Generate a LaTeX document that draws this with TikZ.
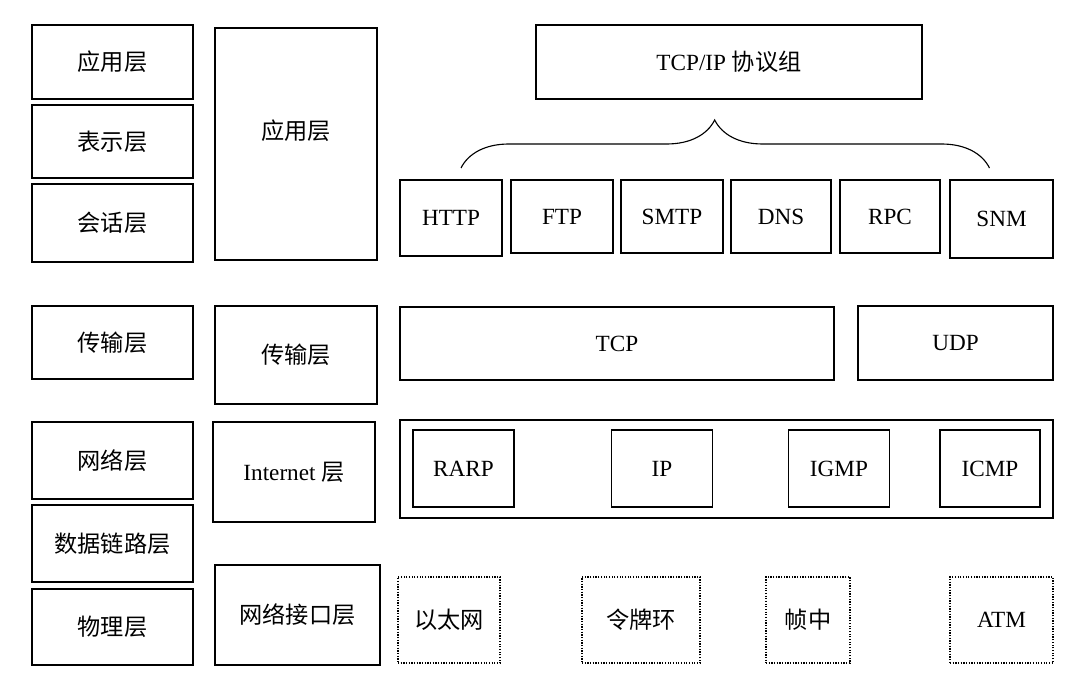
\documentclass[tikz,border=0pt]{standalone}
\usepackage{fontspec}
\setmainfont{Liberation Serif}
\newfontfamily\cjk{Noto Sans CJK SC}
\usetikzlibrary{decorations.pathreplacing}
\tikzset{
  layer/.style={rectangle,draw,line width=0.9pt,inner sep=0pt,outer sep=0pt,
    font=\fontsize{16.5}{19}\selectfont},
  heavy/.style={layer,line width=1.6pt},
  dotbox/.style={layer,densely dotted,line width=1.2pt}
}
% style, name, x, y, w, h, text (pixel units)
\newcommand\lay[7]{\node[#1,minimum width=#5*0.025cm,minimum height=#6*0.025cm] (#2) at (#3,#4) {#7};}
\begin{document}
\begin{tikzpicture}[x=0.025cm,y=-0.025cm]
  \useasboundingbox (0,0) rectangle (1087,679);
  % OSI model
  \lay{layer}{osi_app}{112.5}{62}{161}{74}{\cjk 应用层}
  \lay{layer}{osi_pres}{112.5}{141.5}{161}{73}{\cjk 表示层}
  \lay{layer}{osi_sess}{112.5}{223}{161}{78}{\cjk 会话层}
  \lay{layer}{osi_trans}{112.5}{342.5}{161}{73}{\cjk 传输层}
  \lay{layer}{osi_net}{112.5}{460.5}{161}{77}{\cjk 网络层}
  \lay{layer}{osi_link}{112.5}{543.5}{161}{77}{\cjk 数据链路层}
  \lay{layer}{osi_phys}{112.5}{627}{161}{76}{\cjk 物理层}
  % TCP/IP model
  \lay{heavy}{tcp_app}{296}{144}{162}{232}{\raisebox{1.2em}{\cjk 应用层}}
  \lay{heavy}{tcp_trans}{296}{355}{162}{98}{\cjk 传输层}
  \lay{heavy}{tcp_inet}{294}{472}{162}{100}{Internet {\cjk 层}}
  \lay{heavy}{tcp_iface}{297.5}{615}{165}{100}{\cjk 网络接口层}
  % protocol suite
  \lay{layer}{suite}{729}{62}{386}{74}{TCP/IP {\cjk 协议组}}
  \lay{heavy}{http}{451}{218}{102}{76}{HTTP}
  \lay{layer}{ftp}{562}{216.5}{102}{73}{FTP}
  \lay{heavy}{smtp}{672}{216.5}{102}{73}{SMTP}
  \lay{heavy}{dns}{781}{216.5}{100}{73}{DNS}
  \lay{heavy}{rpc}{890}{216.5}{100}{73}{RPC}
  \lay{heavy}{snm}{1001.5}{219}{103}{78}{SNM}
  \lay{heavy}{tcp}{617}{343.5}{434}{73}{TCP}
  \lay{heavy}{udp}{955.5}{343}{195}{74}{UDP}
  \lay{heavy}{inet}{726.5}{469}{653}{98}{}
  \lay{layer}{rarp}{463.5}{468.5}{101}{77}{RARP}
  \lay{layer}{ip}{662}{468.5}{101}{77}{IP}
  \lay{layer}{igmp}{839}{468.5}{101}{77}{IGMP}
  \lay{layer}{icmp}{990}{468.5}{100}{77}{ICMP}
  \lay{dotbox}{ether}{449}{620}{102}{86}{\cjk 以太网}
  \lay{dotbox}{ring}{641}{620}{118}{86}{\cjk 令牌环}
  \lay{dotbox}{frame}{808}{620}{84}{86}{\cjk 帧中}
  \lay{dotbox}{atm}{1001.5}{620}{103}{86}{ATM}
  \draw[decorate,decoration={brace,amplitude=1.2cm,aspect=0.48},line width=0.8pt]
    ([xshift=0.25cm,yshift=0.3cm]http.north) -- ([xshift=-0.3cm,yshift=0.3cm]snm.north);
\end{tikzpicture}
\end{document}
